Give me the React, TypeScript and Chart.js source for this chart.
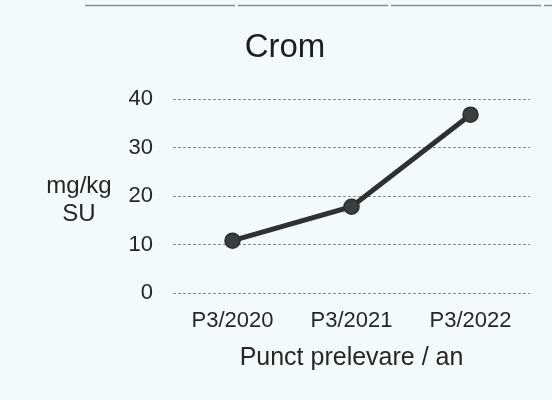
import React, { useEffect, useRef } from "react";
import { Chart, registerables } from "chart.js";

Chart.register(...registerables);

const chartTitle = "Crom";
const categories = ["P3/2020", "P3/2021", "P3/2022"];
const values = [10.8, 17.8, 36.8];
const yMin = 0;
const yMax = 40;
const yStep = 10;
const yAxisTitle = ["mg/kg", "SU"];
const xAxisTitle = "Punct prelevare / an";

const FONT = "'Liberation Sans', Arial, Helvetica, sans-serif";
const TEXT = "#262626";
const BG = "#f3fafb";

export default function App() {
  const ref = useRef<HTMLCanvasElement>(null);

  useEffect(() => {
    const canvas = ref.current;
    if (!canvas) return;

    const decor = {
      id: "decor",
      beforeDraw(chart: any) {
        const ctx = chart.ctx;
        ctx.save();
        ctx.fillStyle = BG;
        ctx.fillRect(0, 0, chart.width, chart.height);
        ctx.strokeStyle = "#8a8a8a";
        ctx.lineWidth = 1.5;
        ctx.setLineDash([150, 3]);
        ctx.beginPath();
        ctx.moveTo(85, 5.5);
        ctx.lineTo(chart.width, 5.5);
        ctx.stroke();
        ctx.restore();
      },
      afterDraw(chart: any) {
        const ctx = chart.ctx;
        const y = chart.scales.y;
        const mid = (y.top + y.bottom) / 2;
        ctx.save();
        ctx.font = `24px ${FONT}`;
        ctx.fillStyle = TEXT;
        ctx.textAlign = "center";
        ctx.textBaseline = "alphabetic";
        ctx.fillText(yAxisTitle[0], 79, mid - 3);
        ctx.fillText(yAxisTitle[1], 79, mid + 25);
        ctx.restore();
      },
    };

    const chart = new Chart(canvas, {
      type: "line",
      data: {
        labels: categories,
        datasets: [
          {
            data: values,
            borderColor: "#2d3131",
            borderWidth: 5,
            pointRadius: 7.5,
            pointBackgroundColor: "#3a4040",
            pointBorderColor: "#2a2e2e",
            pointBorderWidth: 1.5,
            tension: 0,
          },
        ],
      },
      options: {
        responsive: false,
        animation: false,
        layout: { padding: { left: 40, right: 22, top: 8, bottom: 0 } },
        plugins: {
          legend: { display: false },
          tooltip: { enabled: false },
          title: {
            display: true,
            text: chartTitle,
            color: "#1e1e1e",
            font: { family: FONT, size: 33, weight: "normal" },
            padding: { top: 20, bottom: 31.6 },
          },
        },
        scales: {
          x: {
            offset: true,
            afterFit(scale: any) {
              scale.height = 107;
            },
            grid: { display: false, drawTicks: false },
            border: { display: false },
            ticks: {
              color: TEXT,
              padding: 15,
              font: { family: FONT, size: 22 },
              maxRotation: 0,
            },
            title: {
              display: true,
              text: xAxisTitle,
              color: TEXT,
              font: { family: FONT, size: 25 },
              padding: { top: 0, bottom: 27 },
            },
          },
          y: {
            min: yMin,
            max: yMax,
            afterFit(scale: any) {
              scale.width = 133;
            },
            grid: {
              color: "#8a8a8a",
              lineWidth: 1,
              drawTicks: false,
            },
            border: { display: false, dash: [3, 2] },
            ticks: {
              stepSize: yStep,
              color: TEXT,
              padding: 20,
              font: { family: FONT, size: 22 },
            },
          },
        },
      },
      plugins: [decor],
    });

    return () => chart.destroy();
  }, []);

  return (
    <div style={{ position: "fixed", left: 0, top: 0, width: 552, height: 400, background: BG }}>
      <canvas ref={ref} width={552} height={400} style={{ display: "block", width: 552, height: 400 }} />
    </div>
  );
}
